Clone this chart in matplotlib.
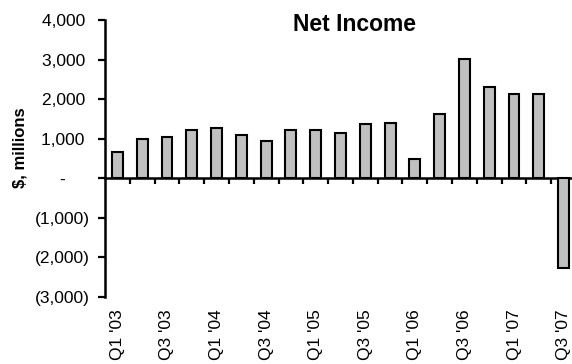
import numpy as np
import matplotlib
matplotlib.use("Agg")
from matplotlib import pyplot as plt
from matplotlib.ticker import FixedLocator, FuncFormatter

plt.rcParams["font.family"] = ["Liberation Sans", "DejaVu Sans"]

QUARTERS = ["Q1 '03", "Q2 '03", "Q3 '03", "Q4 '03",
            "Q1 '04", "Q2 '04", "Q3 '04", "Q4 '04",
            "Q1 '05", "Q2 '05", "Q3 '05", "Q4 '05",
            "Q1 '06", "Q2 '06", "Q3 '06", "Q4 '06",
            "Q1 '07", "Q2 '07", "Q3 '07"]

NET_INCOME = [660, 980, 1030, 1225,
              1260, 1083, 940, 1210,
              1227, 1141, 1379, 1404,
              483, 1632, 3023, 2315,
              2120, 2120, -2264]

Y_TICKS = [-3000, -2000, -1000, 0, 1000, 2000, 3000, 4000]


def accounting(v, pos):
    # Excel style: negatives in parentheses, zero as a dash
    if v < 0:
        return f"({abs(v):,.0f})"
    if v == 0:
        return "-     "
    return f"{v:,.0f} "


fig = plt.figure(figsize=(5.72, 3.64), dpi=100)
ax = fig.add_axes([105 / 572, 1 - 296.7 / 364, 471 / 572, 276.7 / 364])

x = np.arange(len(QUARTERS))
ax.bar(x, NET_INCOME, width=0.44, color="#c0c0c0", edgecolor="black",
       linewidth=1.5, zorder=3)

ax.set_xlim(-0.5, len(QUARTERS) - 0.5)
ax.set_ylim(Y_TICKS[0], Y_TICKS[-1])

ax.yaxis.set_major_locator(FixedLocator(Y_TICKS))
ax.yaxis.set_major_formatter(FuncFormatter(accounting))
ax.tick_params(axis="y", direction="out", length=5, width=1.6, pad=6,
               labelsize=12.5)

# quarter labels every other bar, along the bottom
ax.set_xticks(x[::2])
ax.set_xticklabels(QUARTERS[::2], rotation=90, fontsize=12.5)
ax.tick_params(axis="x", length=0, pad=9)

for side in ["top", "right", "bottom"]:
    ax.spines[side].set_visible(False)
ax.spines["left"].set_linewidth(1.8)

# zero line with ticks between the bars
zero_axis = ax.secondary_xaxis(0, transform=ax.transData)
zero_axis.set_xticks(np.arange(len(QUARTERS)) + 0.5)
zero_axis.set_xticklabels([])
zero_axis.tick_params(direction="out", length=4.5, width=1.6)
zero_axis.spines["bottom"].set_linewidth(1.8)

ax.text(0.529, 0.982, "Net Income", transform=ax.transAxes, ha="center",
        va="center", fontsize=16.5, fontweight="bold")
fig.text(20 / 572, 1 - 147.5 / 364, "$, millions", rotation=90, ha="center",
         va="center", fontsize=12, fontweight="bold")

fig.savefig("out.png", dpi=100)
